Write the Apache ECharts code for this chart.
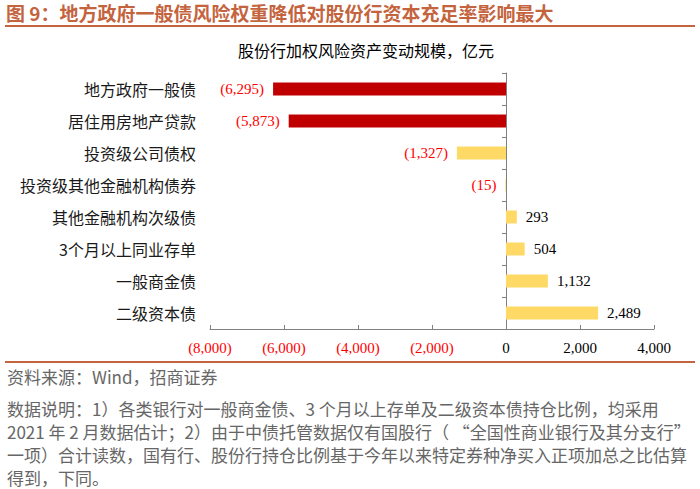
<!DOCTYPE html>
<html>
<head>
<meta charset="utf-8">
<script src="https://cdn.jsdelivr.net/npm/echarts@6/dist/echarts.min.js"></script>
<style>
html,body{margin:0;padding:0;background:#fff;}
#chart{width:700px;height:489px;}
</style>
</head>
<body>
<div id="chart"></div>
<script>
var figureTitle = '图 9：地方政府一般债风险权重降低对股份行资本充足率影响最大';
var chartTitle = '股份行加权风险资产变动规模，亿元';
var categories = ['地方政府一般债','居住用房地产贷款','投资级公司债权','投资级其他金融机构债券','其他金融机构次级债','3个月以上同业存单','一般商金债','二级资本债'];
var values = [-6295, -5873, -1327, -15, 293, 504, 1132, 2489];
var highlighted = ['地方政府一般债','居住用房地产贷款'];
var axisMin = -8000, axisMax = 4000, axisStep = 2000;
var sourceText = '资料来源：Wind，招商证券';
var noteLines = [
  '数据说明：1）各类银行对一般商金债、3 个月以上存单及二级资本债持仓比例，均采用',
  '2021 年 2 月数据估计；2）由于中债托管数据仅有国股行（ “全国性商业银行及其分支行”',
  '一项）合计读数，国有行、股份行持仓比例基于今年以来特定券种净买入正项加总之比估算',
  '得到，下同。'
];

function fmt(v){
  var s = Math.abs(v).toString().replace(/\B(?=(\d{3})+(?!\d))/g, ',');
  return v < 0 ? '(' + s + ')' : s;
}

var chart = echarts.init(document.getElementById('chart'), null, {renderer:'svg'});
var serif = '"Liberation Serif","Times New Roman",serif';
var cjk = '"Noto Sans CJK SC","Noto Sans",sans-serif';
var accent = '#C4643E';

var graphics = [
  {type:'text', left:6, top:3, style:{text:figureTitle, fill:accent, font:'bold 19px ' + cjk}},
  {type:'line', shape:{x1:5,y1:26,x2:695,y2:26}, style:{stroke:accent, lineWidth:2}},
  {type:'text', x:366, y:50, style:{text:chartTitle, fill:'#000', font:'16px ' + cjk, textAlign:'center', textVerticalAlign:'middle'}},
  {type:'line', shape:{x1:5,y1:362,x2:695,y2:362}, style:{stroke:accent, lineWidth:2}},
  {type:'text', x:7, y:376, style:{text:sourceText, fill:'#666', font:'17px ' + cjk, textVerticalAlign:'middle'}},
  {type:'text', x:7, y:397, style:{text:noteLines.join('\n'), fill:'#666', font:'17px ' + cjk, lineHeight:23, textVerticalAlign:'top'}}
];

var seriesData = values.map(function(v, i){
  return {
    value: v,
    itemStyle: {color: highlighted.indexOf(categories[i]) >= 0 ? '#C00000' : '#FFD966'},
    label: {position: v < 0 ? 'left' : 'right', color: v < 0 ? '#FF0000' : '#000'}
  };
});

chart.setOption({
  animation:false,
  grid:{left:210, right:46, top:73, bottom:160, containLabel:false},
  xAxis:{
    type:'value', min:axisMin, max:axisMax, interval:axisStep,
    axisLine:{show:true, lineStyle:{color:'#808080', width:1}},
    axisTick:{show:true, inside:true, length:4, lineStyle:{color:'#808080'}},
    splitLine:{show:false},
    axisLabel:{
      margin:11, fontFamily:serif, fontSize:15,
      formatter:function(v){return fmt(v);},
      color:function(v){return Number(v) < 0 ? '#FF0000' : '#000';}
    }
  },
  yAxis:[
    {
      type:'category', data:categories, inverse:true,
      axisLine:{show:true, onZero:true, lineStyle:{color:'#808080', width:1}},
      axisTick:{show:true, length:4, lineStyle:{color:'#808080'}},
      axisLabel:{show:false}
    },
    {
      type:'category', data:categories, inverse:true, position:'left',
      axisLine:{show:false, onZero:false},
      axisTick:{show:false},
      axisLabel:{margin:14, fontFamily:cjk, fontSize:16, color:'#1a1a1a'}
    }
  ],
  series:[{
    type:'bar', yAxisIndex:0, barWidth:13,
    data:seriesData,
    label:{show:true, distance:9, fontFamily:serif, fontSize:15, formatter:function(p){return fmt(p.value);}}
  }],
  graphic:graphics
});
</script>
</body>
</html>
